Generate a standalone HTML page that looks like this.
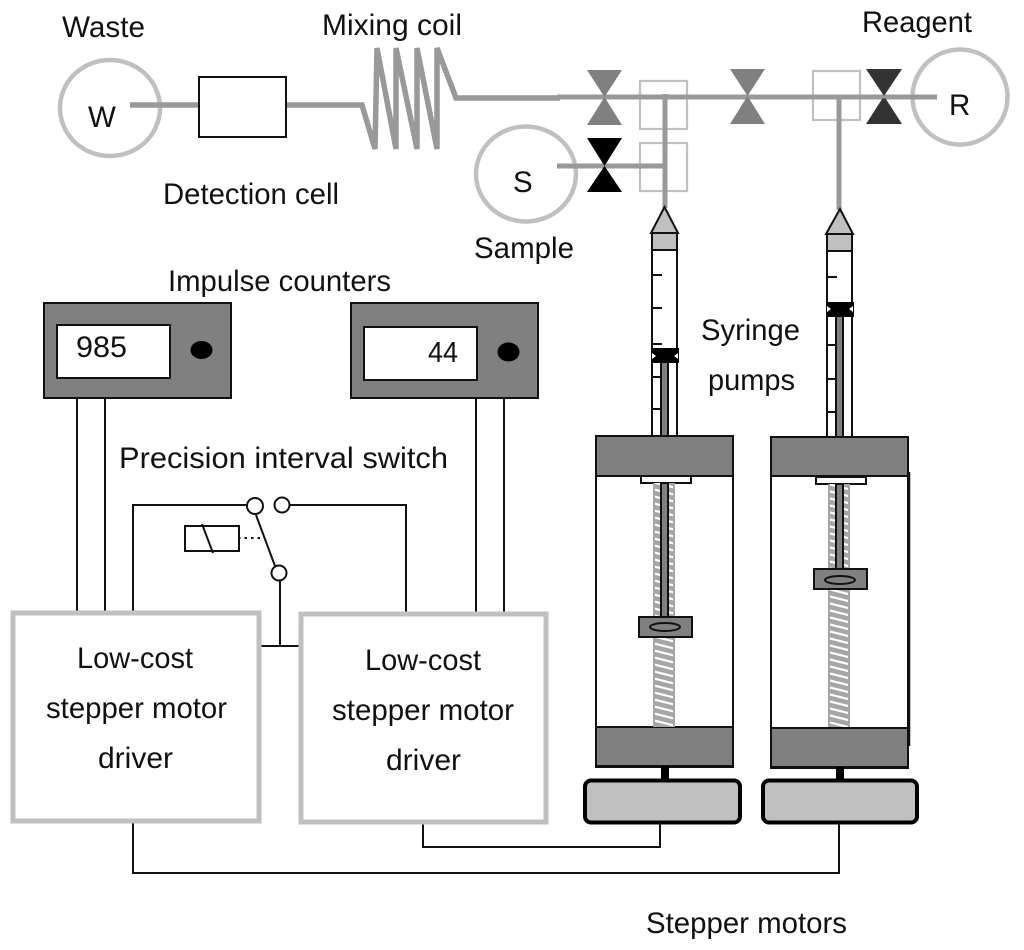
<!DOCTYPE html>
<html><head><meta charset="utf-8"><style>
html,body{margin:0;padding:0;background:#fff;width:1024px;height:950px;overflow:hidden}
svg{display:block}
text{font-family:"Liberation Sans",Arial,sans-serif;font-size:29.500px;fill:#111}
</style></head><body>
<svg width="1024" height="950" viewBox="0 0 1024 950" xmlns="http://www.w3.org/2000/svg">
<defs>
<pattern id="h" width="28" height="7" patternUnits="userSpaceOnUse">
<rect width="28" height="7" fill="#a6a6a6"/>
<path d="M-4 -4 L32 5 M-4 3 L32 12" stroke="#fff" stroke-width="2.200" fill="none"/>
</pattern>
</defs>
<rect width="1024" height="950" fill="#fff"/>

<!-- Flow path -->
<g fill="none" stroke="#c0c0c0">
<ellipse cx="110" cy="108" rx="50" ry="48" stroke-width="4.500"/>
<ellipse cx="526" cy="174" rx="50" ry="47.500" stroke-width="4.500"/>
<circle cx="960" cy="97" r="47.500" stroke-width="4.500"/>
<g stroke-width="2.200">
<rect x="640" y="81" width="47" height="48"/>
<rect x="640" y="143" width="47" height="48"/>
<rect x="813" y="71" width="47" height="49"/>
</g>
</g>
<g fill="none" stroke="#999" stroke-width="5">
<path stroke-width="5.500" d="M130 105H200M286 105H362L375 149L377 48L396 149L396 48L417 149L417 48L437 149L437 48L456 98H560"/>
<path d="M557 97H937M557 166H665M665 94V208M839 97V210"/>
</g>
<rect x="199" y="77" width="87" height="60" fill="#fff" stroke="#111" stroke-width="2"/>

<!-- Valves -->
<path d="M587 70H622L604.500 97L622 125H587L604.500 97Z" fill="#808080"/>
<path d="M730 69H765L747.500 96L765 124H730L747.500 96Z" fill="#808080"/>
<path d="M587 138H622L604.500 166L622 192H587L604.500 166Z" fill="#000"/>
<path d="M866 69H902L884 96L902 124H866L884 96Z" fill="#333"/>
<path d="M870 97H898" stroke="#999" stroke-width="3"/>

<!-- Left syringe pump -->
<g stroke="#111" stroke-width="2">
<path d="M664.500 207L651 233H678Z" fill="#c0c0c0"/>
<rect x="652" y="233" width="25" height="203" fill="#fff"/>
<rect x="652" y="233" width="25" height="17" fill="#c0c0c0"/>
<path d="M652 275H662M652 308H662M652 344H662M652 377H660M652 409H660" fill="none"/>
<rect x="661" y="362" width="7" height="74" fill="#808080"/>
<rect x="596" y="436" width="137" height="331" fill="#fff"/>
<rect x="596" y="436" width="137" height="40" fill="#808080"/>
<rect x="596" y="727" width="137" height="39" fill="#808080"/>
<rect x="641" y="476" width="50" height="7" fill="#fff"/>
</g>
<rect x="654" y="483" width="20" height="244" fill="url(#h)"/>
<path d="M654 483V727M674 483V727" stroke="#a6a6a6" stroke-width="2"/>
<rect x="661" y="483" width="7" height="135" fill="#808080" stroke="#111" stroke-width="2"/>
<rect x="639" y="617" width="53" height="20" fill="#808080" stroke="#111" stroke-width="2"/>
<ellipse cx="665" cy="627" rx="15" ry="4" fill="#808080" stroke="#111" stroke-width="2"/>
<rect x="651" y="348" width="28" height="15" fill="#000"/>
<path d="M652 353L656 356L652 359ZM678 353L674 356L678 359Z" fill="#fff"/>
<rect x="661" y="766" width="8" height="15" fill="#000"/>
<rect x="585" y="780.500" width="155" height="42" rx="6" fill="#c0c0c0" stroke="#000" stroke-width="4"/>

<!-- Right syringe pump -->
<g stroke="#111" stroke-width="2">
<path d="M840 209L826 234H853Z" fill="#c0c0c0"/>
<rect x="827" y="234" width="25" height="203" fill="#fff"/>
<rect x="827" y="234" width="25" height="17" fill="#c0c0c0"/>
<path d="M827 277H837M827 345H835M827 379H835M827 412H835" fill="none"/>
<rect x="836" y="316" width="7" height="121" fill="#808080"/>
<rect x="771" y="437" width="137" height="331" fill="#fff"/>
<rect x="771" y="437" width="137" height="39" fill="#808080"/>
<rect x="771" y="728" width="137" height="39" fill="#808080"/>
<rect x="816" y="477" width="50" height="7" fill="#fff"/>
</g>
<rect x="829" y="484" width="20" height="243" fill="url(#h)"/>
<path d="M829 484V727M849 484V727" stroke="#a6a6a6" stroke-width="2"/>
<rect x="836" y="484" width="7" height="88" fill="#808080" stroke="#111" stroke-width="2"/>
<rect x="814" y="569" width="53" height="20" fill="#808080" stroke="#111" stroke-width="2"/>
<ellipse cx="840" cy="580" rx="15" ry="4" fill="#808080" stroke="#111" stroke-width="2"/>
<rect x="827" y="302" width="27" height="15" fill="#000"/>
<path d="M827 306L831 309L827 312ZM853 306L849 309L853 312Z" fill="#fff"/>
<path d="M909 472V746" stroke="#111" stroke-width="2.500"/>
<rect x="836" y="767" width="8" height="14" fill="#000"/>
<rect x="763" y="780.500" width="154" height="42" rx="6" fill="#c0c0c0" stroke="#000" stroke-width="4"/>

<!-- Wires -->
<g fill="none" stroke="#111" stroke-width="2">
<path d="M77 398V612M105 398V612M476 398V612M504 398V612"/>
<path d="M133 612V505H247M290 505H406V612"/>
<path d="M256 515L275 566M280 581V646M258 646H299"/>
<path d="M133 821V873H839V823M423 822V847H660V823"/>
<rect x="185" y="526" width="54" height="25"/>
<path d="M202 524L213 553"/>
<path d="M238 538H263" stroke-dasharray="2.500 4"/>
<circle cx="255" cy="506" r="8"/>
<circle cx="282" cy="505" r="7.500"/>
<circle cx="279" cy="573" r="7.500"/>
</g>

<!-- Counters -->
<g stroke="#111" stroke-width="2">
<rect x="44" y="303" width="187" height="95" fill="#808080"/>
<rect x="57" y="325" width="113" height="53" fill="#fff"/>
<rect x="351" y="303" width="187" height="95" fill="#808080"/>
<rect x="364" y="327" width="113" height="53" fill="#fff"/>
</g>
<ellipse cx="201.500" cy="350" rx="11" ry="9" fill="#000"/>
<ellipse cx="508.500" cy="352" rx="11" ry="9.500" fill="#000"/>

<!-- Drivers -->
<g fill="#fff" stroke="#c0c0c0" stroke-width="5">
<rect x="13" y="613" width="246" height="208"/>
<rect x="301" y="614" width="245" height="208"/>
</g>

<!-- Labels -->
<text x="62" y="37" textLength="83" lengthAdjust="spacingAndGlyphs">Waste</text>
<text x="322" y="35" textLength="140" lengthAdjust="spacingAndGlyphs">Mixing coil</text>
<text x="862" y="32" textLength="110" lengthAdjust="spacingAndGlyphs">Reagent</text>
<text x="88" y="127">W</text>
<text x="513" y="192">S</text>
<text x="949" y="115">R</text>
<text x="163" y="204" textLength="176" lengthAdjust="spacingAndGlyphs">Detection cell</text>
<text x="474" y="258" textLength="100" lengthAdjust="spacingAndGlyphs">Sample</text>
<text x="168" y="291" textLength="223" lengthAdjust="spacingAndGlyphs">Impulse counters</text>
<text x="76" y="357" textLength="51" lengthAdjust="spacingAndGlyphs">985</text>
<text x="428" y="362" style="font-size:29px" textLength="30" lengthAdjust="spacingAndGlyphs">44</text>
<text x="701" y="340" textLength="99" lengthAdjust="spacingAndGlyphs">Syringe</text>
<text x="708" y="390" textLength="87" lengthAdjust="spacingAndGlyphs">pumps</text>
<text x="119" y="468" textLength="329" lengthAdjust="spacingAndGlyphs">Precision interval switch</text>
<text x="77" y="668" textLength="116" lengthAdjust="spacingAndGlyphs">Low-cost</text>
<text x="46" y="718" textLength="181" lengthAdjust="spacingAndGlyphs">stepper motor</text>
<text x="98" y="768" textLength="75" lengthAdjust="spacingAndGlyphs">driver</text>
<text x="365" y="670" textLength="116" lengthAdjust="spacingAndGlyphs">Low-cost</text>
<text x="332" y="720" textLength="182" lengthAdjust="spacingAndGlyphs">stepper motor</text>
<text x="386" y="770" textLength="75" lengthAdjust="spacingAndGlyphs">driver</text>
<text x="646" y="933" textLength="201" lengthAdjust="spacingAndGlyphs">Stepper motors</text>
</svg>
</body></html>
